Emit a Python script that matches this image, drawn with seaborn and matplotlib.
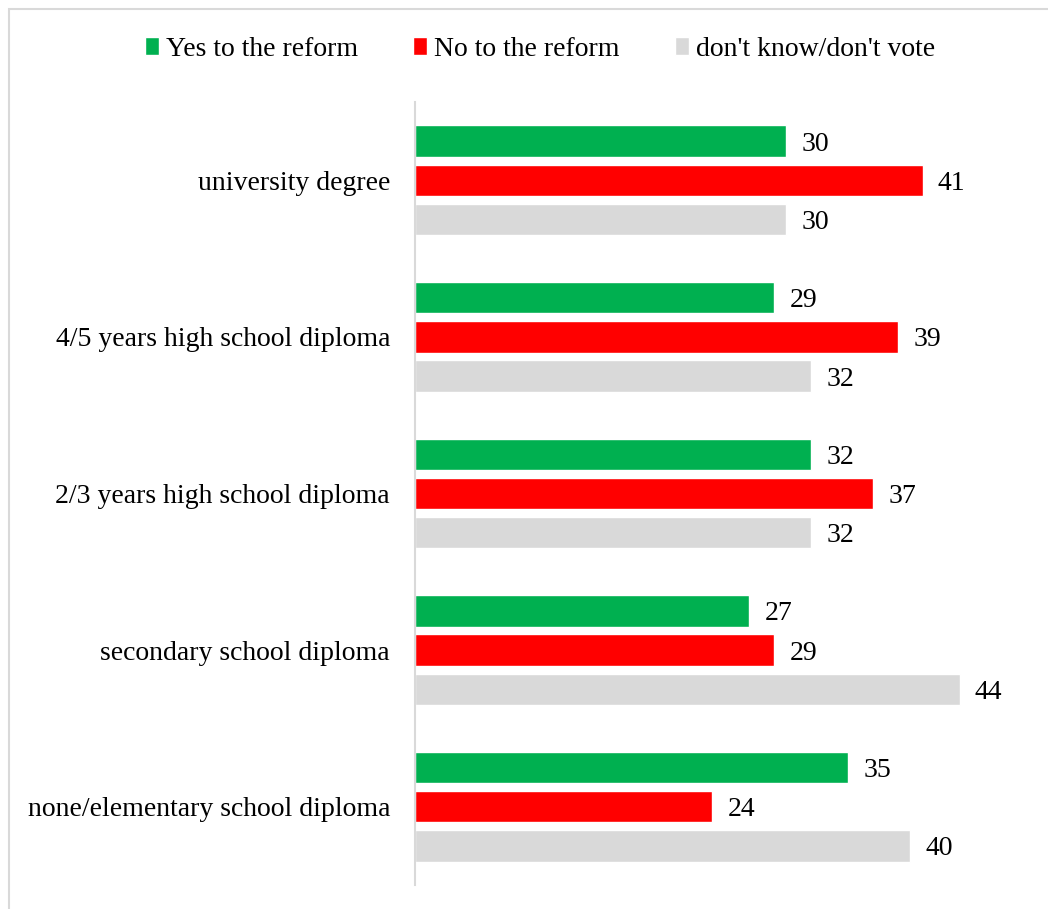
import pandas as pd
import matplotlib.pyplot as plt
import seaborn as sns
from matplotlib.patches import Rectangle

categorias = ['university degree', '4/5 years high school diploma', '2/3 years high school diploma',
              'secondary school diploma', 'none/elementary school diploma']
series = ['Yes to the reform', 'No to the reform', "don't know/don't vote"]
sim = [30, 29, 32, 27, 35]
nao = [41, 39, 37, 29, 24]
nao_sei = [30, 32, 32, 44, 40]
cores = ['#00b050', '#ff0000', '#d9d9d9']

df = pd.DataFrame({
    'categoria': categorias * 3,
    'serie': [series[0]] * 5 + [series[1]] * 5 + [series[2]] * 5,
    'valor': sim + nao + nao_sei,
})

sns.set_style('white')
plt.rcParams['font.family'] = ['Liberation Serif', 'DejaVu Serif']
plt.rcParams['text.color'] = 'black'
plt.rcParams['ytick.color'] = 'black'

fig = plt.figure(figsize=(10.48, 9.09), dpi=100)
ax = fig.add_axes([415 / 1048, 1 - 885 / 909, (1034 - 415) / 1048, 783 / 909])

sns.barplot(data=df, x='valor', y='categoria', hue='serie', order=categorias, hue_order=series,
            palette=cores, orient='h', width=0.75, gap=0.2, saturation=1, ax=ax, legend=True)

# rótulos dos valores ao lado das barras
for cont in ax.containers:
    rot = ax.bar_label(cont, padding=11, fontsize=20, color='black')
    for t in rot:
        t.set_y(t.get_position()[1])
        t.set_va('center_baseline')

ax.set_xlim(0, 50)
ax.set_ylim(4.5, -0.5)
ax.set_xlabel('')
ax.set_ylabel('')
ax.set_xticks([])
ax.tick_params(axis='y', labelsize=20, length=0, pad=18, labelcolor='black')
for lado in ['top', 'right', 'bottom']:
    ax.spines[lado].set_visible(False)
ax.spines['left'].set_color('#d9d9d9')
ax.spines['left'].set_linewidth(1.5)

h, l = ax.get_legend_handles_labels()
ax.get_legend().remove()
fig.legend(h, l, loc='center', bbox_to_anchor=(540 / 1048, 1 - 49 / 909), ncol=3, frameon=False,
           fontsize=20, handlelength=0.5, handleheight=0.6, handletextpad=0.25, columnspacing=2.0)

fig.add_artist(Rectangle((9 / 1048, -0.01), 1.02, 1 - 9 / 909 + 0.01, transform=fig.transFigure,
                         fill=False, edgecolor='#d9d9d9', linewidth=1.5))

fig.savefig('out.png', dpi=100)
